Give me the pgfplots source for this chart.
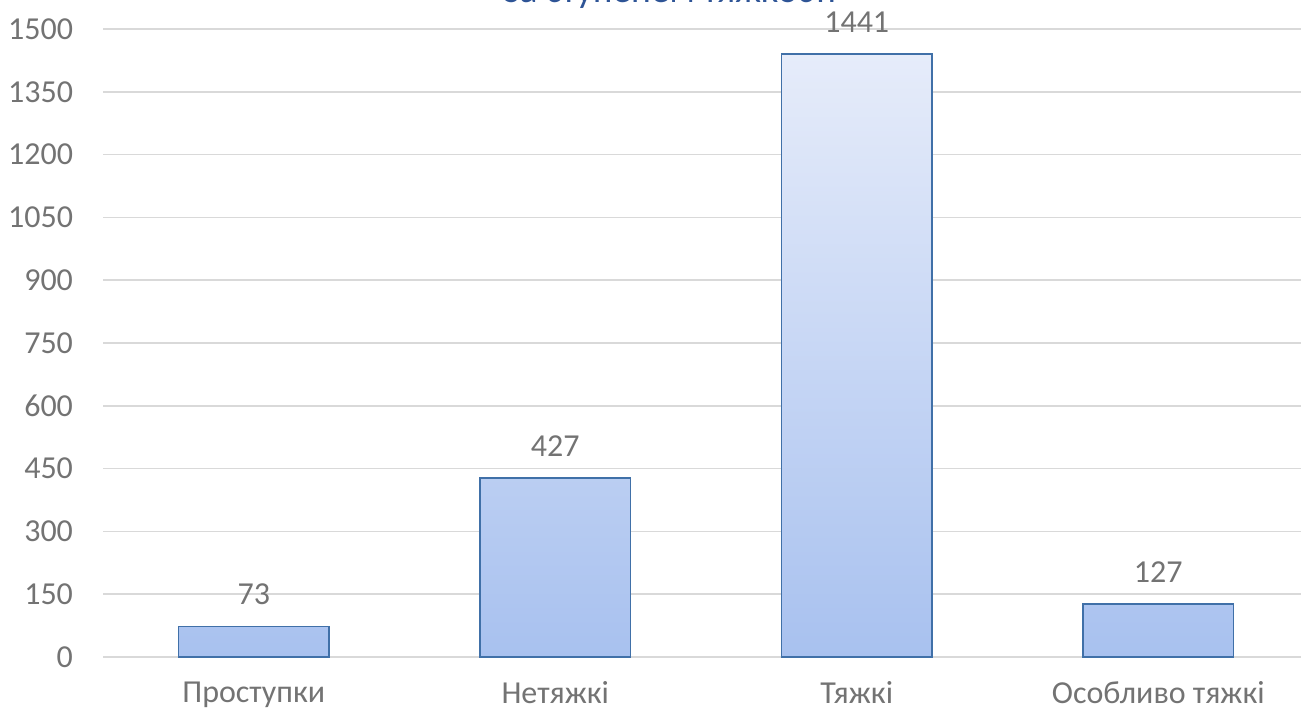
\documentclass[border=0pt]{standalone}
\usepackage{pgfplots}
\pgfplotsset{compat=1.18}
\usepackage{fontspec}
\setmainfont{Carlito}
\definecolor{tickgrey}{HTML}{737373}
\definecolor{gridgrey}{HTML}{D9D9D9}
\definecolor{bartop}{HTML}{E6ECFA}
\definecolor{barbot}{HTML}{A8C1EF}
\definecolor{barline}{HTML}{4070A8}
\definecolor{titleblue}{HTML}{2E5496}
\begin{document}
\begin{tikzpicture}
\begin{axis}[
  at={(77.25pt,40.5pt)}, anchor=south west,
  scale only axis, width=904.5pt, height=471pt,
  xmin=-0.5, xmax=3.5, ymin=0, ymax=1500,
  ytick={0,150,...,1500},
  xtick={0,1,2,3},
  xticklabels={Проступки,Нетяжкі,Тяжкі,Особливо тяжкі},
  axis line style={draw=none},
  major tick length=0pt,
  ymajorgrids, grid style={gridgrey, line width=1.2pt},
  tick label style={font=\fontsize{24}{28}\selectfont, text=tickgrey},
  /pgf/number format/assume math mode=true,
  /pgf/number format/1000 sep={},
  yticklabel style={xshift=-19pt},
  xticklabel style={yshift=-15pt, anchor=north},
  ybar, bar width=113pt,
  nodes near coords,
  every node near coord/.append style={font=\fontsize{24}{28}\selectfont, text=tickgrey, yshift=12pt},
  clip=false,
]
\addplot[draw=barline, line width=1.3pt, top color=bartop, bottom color=barbot]
  coordinates {(0,73) (1,427) (2,1441) (3,127)};
\end{axis}
\node[anchor=base, text=titleblue, font=\fontsize{28}{34}\selectfont] at (502.5pt,565pt) {Кількість злочинів};
\node[anchor=base, text=titleblue, font=\fontsize{28}{34}\selectfont] at (502.5pt,531pt) {за ступенем тяжкості};
\pgfresetboundingbox
\useasboundingbox (0,0) rectangle (975.75pt,533.25pt);
\end{tikzpicture}
\end{document}
